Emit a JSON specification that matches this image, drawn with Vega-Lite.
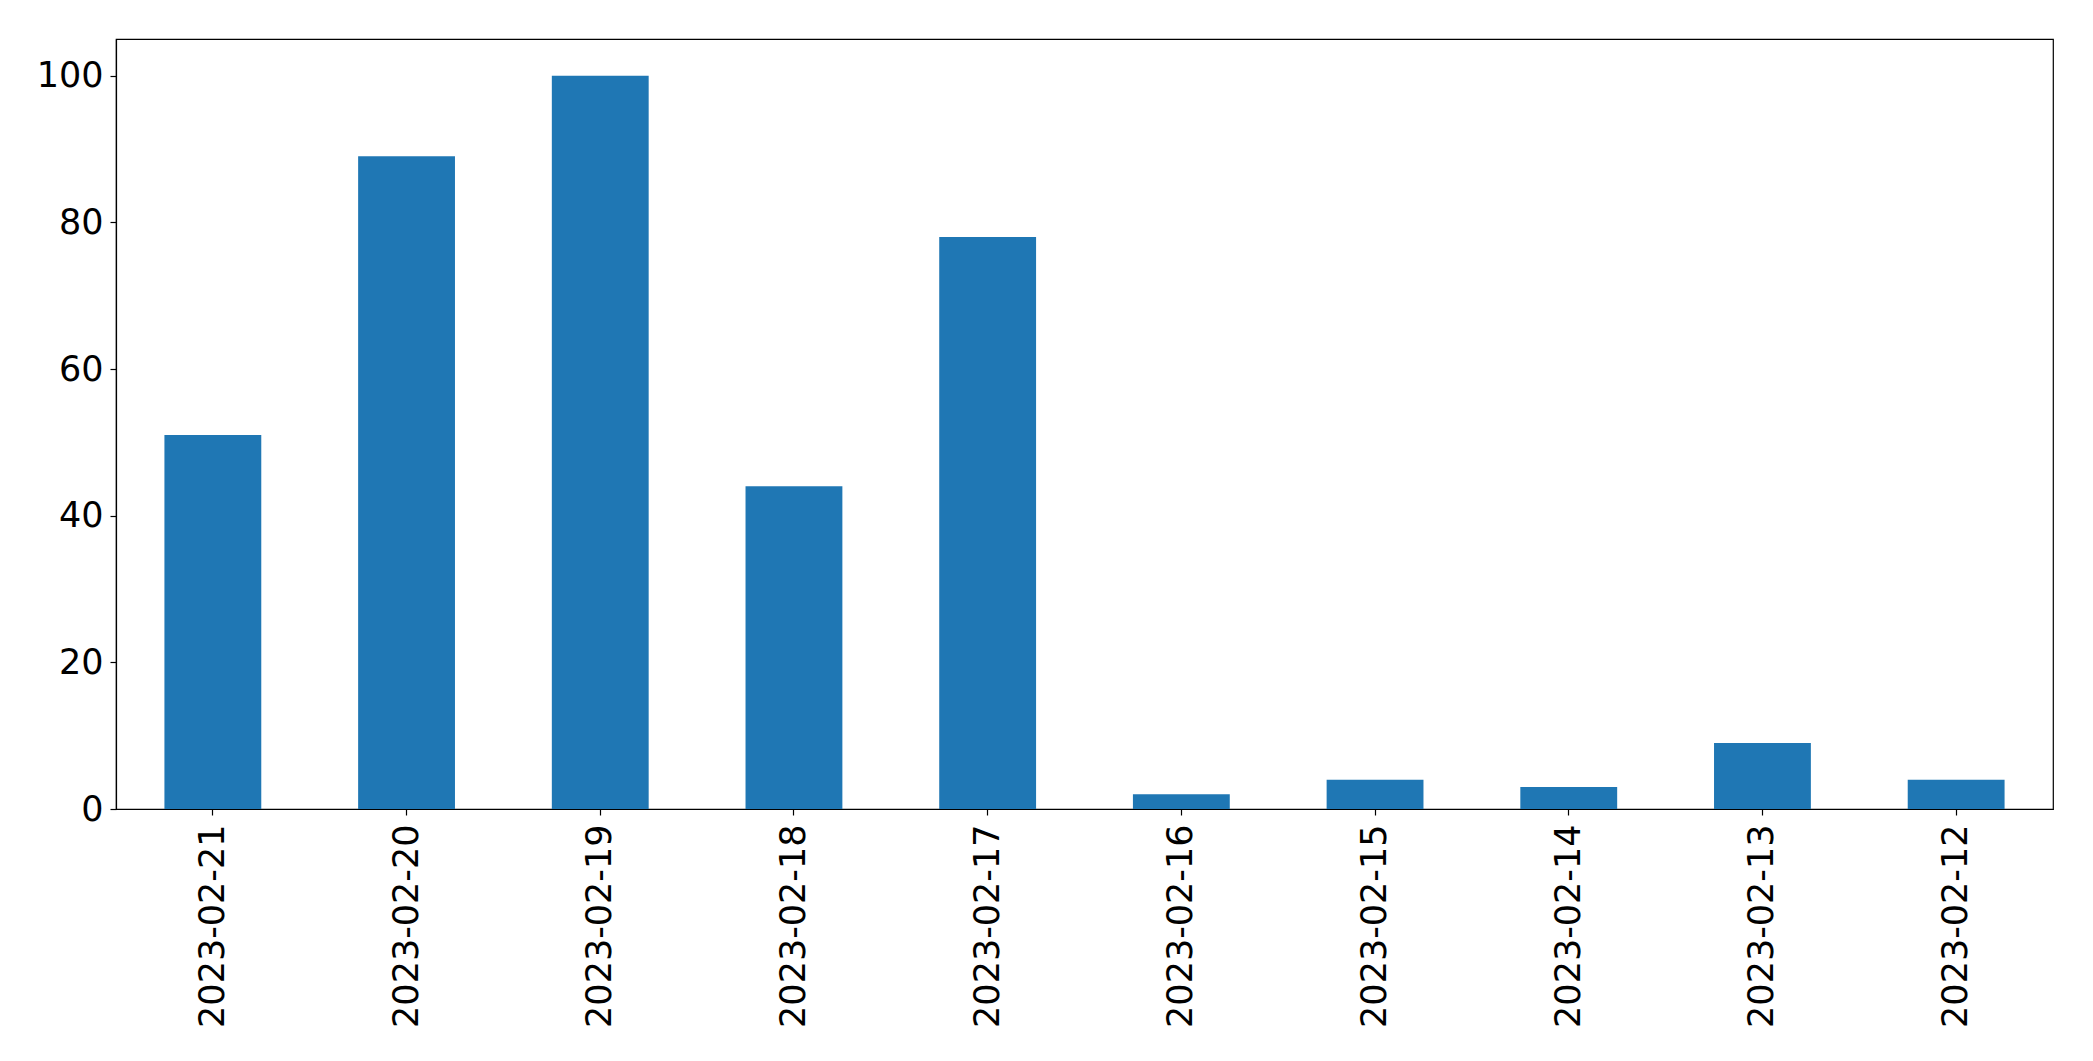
{
  "$schema": "https://vega.github.io/schema/vega-lite/v6.json",
  "autosize": {"type": "none"},
  "padding": {"left": 116, "top": 39, "right": 40, "bottom": 252},
  "width": 1937,
  "height": 770,
  "background": "white",
  "config": {
    "view": {"stroke": "black", "strokeWidth": 1.2},
    "font": "DejaVu Sans",
    "axis": {
      "labelFont": "DejaVu Sans",
      "labelFontSize": 35,
      "labelColor": "black",
      "labelLimit": 0,
      "domainColor": "black",
      "domainWidth": 1.2,
      "tickColor": "black",
      "tickWidth": 1.2,
      "tickSize": 6,
      "grid": false,
      "title": null
    }
  },
  "data": {
    "values": [
      {"date": "2023-02-21", "count": 51},
      {"date": "2023-02-20", "count": 89},
      {"date": "2023-02-19", "count": 100},
      {"date": "2023-02-18", "count": 44},
      {"date": "2023-02-17", "count": 78},
      {"date": "2023-02-16", "count": 2},
      {"date": "2023-02-15", "count": 4},
      {"date": "2023-02-14", "count": 3},
      {"date": "2023-02-13", "count": 9},
      {"date": "2023-02-12", "count": 4}
    ]
  },
  "mark": {"type": "bar", "color": "#1f77b4"},
  "encoding": {
    "x": {
      "field": "date",
      "type": "nominal",
      "sort": null,
      "scale": {"paddingInner": 0.5, "paddingOuter": 0.25},
      "axis": {"labelAngle": -90, "labelPadding": 9, "labelAlign": "right", "labelBaseline": "middle"}
    },
    "y": {
      "field": "count",
      "type": "quantitative",
      "scale": {"domain": [0, 105], "nice": false},
      "axis": {"values": [0, 20, 40, 60, 80, 100], "labelPadding": 7}
    }
  }
}
